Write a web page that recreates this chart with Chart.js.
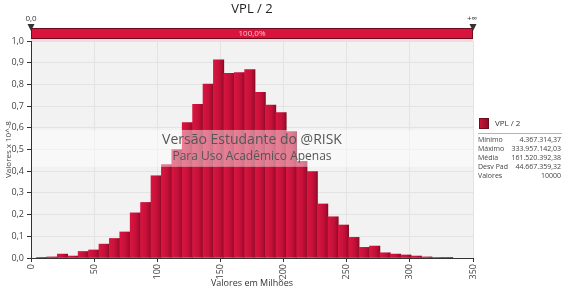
<!DOCTYPE html>
<html>
<head>
<meta charset="utf-8">
<title>VPL / 2</title>
<script src="https://cdn.jsdelivr.net/npm/chart.js@4/dist/chart.umd.min.js"></script>
<style>
  body { margin: 0; background: #fff; }
  canvas { display: block; }
</style>
</head>
<body>
<canvas id="hist" width="564" height="289"></canvas>
<script>
// Histogram data (values in millions, density x 10^-8)
const binCenters = [8.49, 16.73, 24.97, 33.21, 41.45, 49.69, 57.93, 66.17, 74.41, 82.65,
  90.89, 99.13, 107.37, 115.61, 123.85, 132.09, 140.33, 148.57, 156.81, 165.05,
  173.29, 181.53, 189.77, 198.01, 206.25, 214.49, 222.73, 230.97, 239.21, 247.45,
  255.69, 263.93, 272.17, 280.41, 288.65, 296.89, 305.13, 313.37, 321.61, 329.85];
const density = [0.003, 0.005, 0.018, 0.009, 0.030, 0.037, 0.064, 0.090, 0.120, 0.208,
  0.256, 0.379, 0.431, 0.500, 0.624, 0.708, 0.802, 0.913, 0.851, 0.854,
  0.868, 0.763, 0.705, 0.670, 0.583, 0.445, 0.398, 0.249, 0.190, 0.152,
  0.095, 0.049, 0.055, 0.024, 0.018, 0.014, 0.009, 0.005, 0.002, 0.001];

// Stats box on the right
const statLabels = ['Mínimo', 'Máximo', 'Média', 'Desv Pad', 'Valores'];
const statValues = ['4.367.314,37', '333.957.142,03', '161.520.392,38', '44.667.359,32', '10000'];

// Delimiter band on top
const delimLeft = '0,0';
const delimRight = '+∞';
const delimPct = '100,0%';

const FONT = '"Open Sans", "DejaVu Sans", sans-serif';

// Gradient fill per bar (light left, dark right edge)
function barFill(ctx) {
  const chart = ctx.chart;
  const xs = chart.scales.x;
  if (!xs || !chart.chartArea || ctx.raw == null) return '#c4103a';
  const cx = xs.getPixelForValue(ctx.raw.x);
  const half = (xs.getPixelForValue(8.24) - xs.getPixelForValue(0)) / 2;
  const g = chart.ctx.createLinearGradient(cx - half, 0, cx + half, 0);
  g.addColorStop(0, '#d8163f');
  g.addColorStop(0.55, '#c5103a');
  g.addColorStop(0.85, '#a80c2e');
  g.addColorStop(1, '#840a24');
  return g;
}

// Plot background
const plotBg = {
  id: 'plotBg',
  beforeDraw(chart) {
    const { ctx, chartArea: a } = chart;
    ctx.save();
    ctx.fillStyle = '#f2f2f2';
    ctx.fillRect(a.left, a.top, a.right - a.left, a.bottom - a.top);
    ctx.restore();
  }
};

// Watermark, title, delimiters and stats panel
const riskOverlay = {
  id: 'riskOverlay',
  afterDatasetsDraw(chart) {
    const { ctx, chartArea: a, scales: { y } } = chart;
    const mid = (a.left + a.right) / 2;
    const top = y.getPixelForValue(0.59);
    const bot = y.getPixelForValue(0.42);
    ctx.save();
    ctx.fillStyle = 'rgba(255,255,255,0.45)';
    ctx.fillRect(a.left + 1, top, a.right - a.left - 1, bot - top);
    ctx.fillStyle = '#555';
    ctx.textAlign = 'center';
    ctx.textBaseline = 'middle';
    ctx.font = '14px ' + FONT;
    ctx.fillText('Versão Estudante do @RISK', mid, top + 10);
    ctx.font = '12px ' + FONT;
    ctx.fillText('Para Uso Acadêmico Apenas', mid, top + 27);
    ctx.restore();
  },
  afterDraw(chart) {
    const { ctx, chartArea: a, scales: { x } } = chart;
    const mid = (a.left + a.right) / 2;
    const x0 = x.getPixelForValue(0);
    const x1 = a.right;
    ctx.save();

    // title
    ctx.fillStyle = '#222';
    ctx.textAlign = 'center';
    ctx.textBaseline = 'middle';
    ctx.font = '13px ' + FONT;
    ctx.fillText('VPL / 2', mid, 9);

    // delimiter band
    ctx.fillStyle = '#f5dbe0';
    ctx.fillRect(x0, 38, x1 - x0, 3);
    ctx.fillStyle = '#d8143c';
    ctx.fillRect(x0, 28, x1 - x0, 11);
    ctx.strokeStyle = '#6e0a1e';
    ctx.lineWidth = 1;
    ctx.strokeRect(x0 + 0.5, 28.5, x1 - x0 - 1, 10);
    ctx.fillStyle = '#f6c5cf';
    ctx.font = '8px ' + FONT;
    ctx.fillText(delimPct, mid, 34);

    // delimiter markers
    ctx.fillStyle = '#333';
    ctx.font = '8px ' + FONT;
    ctx.fillText(delimLeft, x0, 19);
    ctx.fillText(delimRight, x1 - 1, 19);
    [x0, x1].forEach(px => {
      ctx.beginPath();
      ctx.moveTo(px - 3.5, 24);
      ctx.lineTo(px + 3.5, 24);
      ctx.lineTo(px, 31);
      ctx.closePath();
      ctx.fill();
    });

    // stats panel
    const g = ctx.createLinearGradient(479, 0, 489, 0);
    g.addColorStop(0, '#d0123c');
    g.addColorStop(1, '#8a0a26');
    ctx.fillStyle = g;
    ctx.fillRect(479, 118, 10, 11);
    ctx.strokeStyle = '#6e0a1e';
    ctx.strokeRect(479.5, 118.5, 9, 10);
    ctx.fillStyle = '#333';
    ctx.textAlign = 'left';
    ctx.font = '8px ' + FONT;
    ctx.fillText('VPL / 2', 495, 124);
    ctx.strokeStyle = '#b5b5b5';
    ctx.beginPath();
    ctx.moveTo(478, 133.5);
    ctx.lineTo(562, 133.5);
    ctx.stroke();
    ctx.font = '7px ' + FONT;
    ctx.fillStyle = '#444';
    statLabels.forEach((lbl, i) => {
      const yy = 140 + i * 8.9;
      ctx.textAlign = 'left';
      ctx.fillText(lbl, 478, yy);
      ctx.textAlign = 'right';
      ctx.fillText(statValues[i], 561, yy);
    });
    ctx.restore();
  }
};

new Chart(document.getElementById('hist'), {
  type: 'bar',
  data: {
    datasets: [{
      label: 'VPL / 2',
      data: binCenters.map((c, i) => ({ x: c, y: density[i] })),
      backgroundColor: barFill,
      borderWidth: 0,
      barPercentage: 1,
      categoryPercentage: 1
    }]
  },
  options: {
    responsive: false,
    animation: false,
    layout: { padding: { left: 0, right: 91, top: 41, bottom: 0 } },
    plugins: {
      legend: { display: false },
      tooltip: { enabled: false },
      title: { display: false }
    },
    scales: {
      x: {
        type: 'linear',
        min: 0,
        max: 350,
        offset: false,
        afterFit: s => { s.height = 31; },
        ticks: {
          stepSize: 50,
          minRotation: 90,
          maxRotation: 90,
          padding: 2,
          color: '#444',
          font: { family: FONT, size: 9 },
          callback: v => String(v)
        },
        grid: { offset: false, color: '#e3e3e3', tickColor: '#333', tickLength: 4 },
        border: { display: true, color: '#333' },
        title: {
          display: true,
          text: 'Valores em Milhões',
          color: '#333',
          font: { family: FONT, size: 9 },
          padding: { top: 0, bottom: 0 }
        }
      },
      y: {
        min: 0,
        max: 1,
        afterFit: s => { s.width = 31; },
        ticks: {
          stepSize: 0.1,
          padding: 3,
          color: '#444',
          font: { family: FONT, size: 9 },
          callback: v => v.toFixed(1).replace('.', ',')
        },
        grid: { color: '#e3e3e3', tickColor: '#333', tickLength: 4 },
        border: { display: true, color: '#333' },
        title: {
          display: true,
          text: 'Valores x 10^-8',
          color: '#444',
          font: { family: FONT, size: 8 },
          padding: { top: 4, bottom: 0 }
        }
      }
    }
  },
  plugins: [plotBg, riskOverlay]
});
</script>
</body>
</html>
